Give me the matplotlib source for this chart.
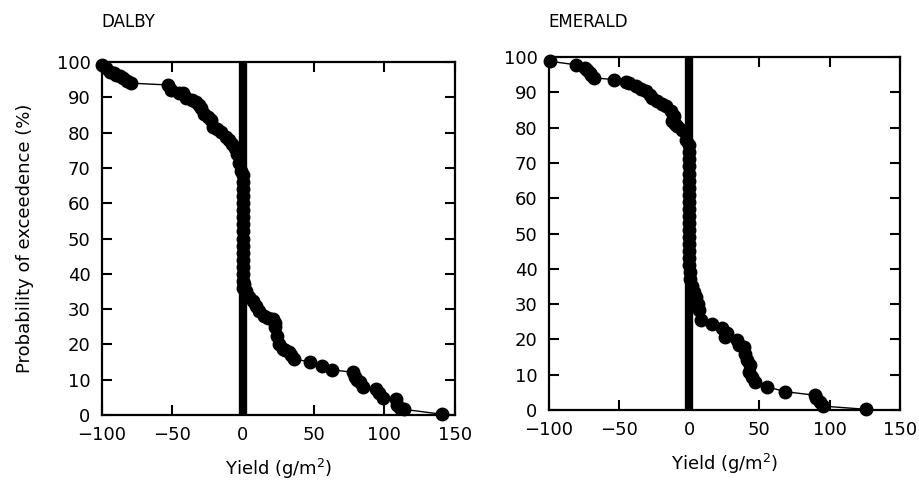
import numpy as np
import matplotlib
matplotlib.use("Agg")
import matplotlib.pyplot as plt

# Datos: rendimiento (g/m2) y probabilidad de excedencia (%)
dalby_yield = [-100, -97, -94, -91.5, -89.5, -87, -85, -82, -79,
               -53, -51, -45.5, -42.6, -40, -36, -33, -31, -29.7, -27.4, -25,
               -22.7, -21.5, -18.5, -15.7, -12.2, -10, -7.5, -5.5, -4, -2.5, -1.6,
               0, 0, 0, 0, 0, 0, 0, 0, 0, 0, 0, 0, 0, 0, 0, 0, 0,
               1, 2.3, 4.5, 7, 9, 11.6, 15, 18, 21, 22.5, 23, 24.4, 25.6, 28, 30,
               32.6, 34, 36, 47.7, 55.8, 62.8, 78, 79, 81, 82.6, 85, 94, 96, 98.8,
               108, 109, 111, 114, 141]
dalby_prob = [99.2, 98.3, 97.3, 96.8, 96.4, 95.9, 95.4, 94.7, 94,
              93.5, 92, 91.3, 91.1, 89.7, 89.2, 88.8, 87.8, 86.9, 85.4, 84.5,
              83.5, 81.6, 80.9, 80.2, 78.8, 77.8, 76.9, 75.5, 74, 71.5, 69.2,
              68, 66, 64, 62, 60, 58, 56, 54, 52, 50, 48, 46, 44, 42, 40, 38, 36,
              37, 35, 33.5, 32.2, 31, 29.4, 28, 27.5, 27.1, 26, 24.8, 22.4, 20.1, 18.7, 18.3,
              17.8, 16.9, 15.9, 15, 14, 12.8, 12.1, 10.7, 10, 9.3, 7.9, 7.5, 6.1, 4.7,
              4.4, 2.8, 2, 1.6, 0.2]

emerald_yield = [-99, -80.6, -74, -72.3, -70.5, -69.9, -67.5, -53.3, -45, -42.7, -38,
                 -34, -30.8, -28, -26.1, -22.5, -19, -16.6, -13, -10.7, -11.8, -10,
                 -8.3, -4.7, -2.4,
                 0, 0, 0, 0, 0, 0, 0, 0, 0, 0, 0, 0, 0, 0, 0, 0, 0, 0, 1, 1, 2, 2,
                 3.5, 4.7, 6, 7, 8.2, 16.5, 23.5, 27, 25.9, 34, 35.3, 38.8, 40, 41.2,
                 43.5, 42.4, 44.7, 47, 55.3, 68.2, 89.4, 90.6, 93, 95.3, 126]
emerald_prob = [98.8, 97.8, 97, 96.4, 95.5, 95, 94.1, 93.6, 93, 92.6, 91.7,
                91, 90.3, 89.3, 88.4, 87.5, 86.7, 86, 84.6, 83.2, 81.8, 81,
                80.4, 79.4, 76.6,
                75, 73, 71, 69, 67, 65, 63, 61, 59, 57, 55, 53, 51, 49, 47, 45, 43, 41, 39, 37, 35, 33.8,
                33.5, 32, 30, 28.3, 25.5, 24.5, 23.1, 21.7, 20.8, 19.8, 18.4, 17.9, 16, 14.2,
                12.7, 10.8, 9.4, 8, 6.6, 5.2, 4.2, 3.3, 2.4, 1.1, 0.2]

xticks = [-100, -50, 0, 50, 100, 150]
yticks = [0, 10, 20, 30, 40, 50, 60, 70, 80, 90, 100]

fig = plt.figure(figsize=(9.2, 4.8), dpi=100)
ax1 = fig.add_axes([0.1105, 0.1354, 0.384, 0.7354])
ax2 = fig.add_axes([0.5962, 0.1458, 0.382, 0.7354])

paneles = [(ax1, dalby_yield, dalby_prob, "DALBY"),
           (ax2, emerald_yield, emerald_prob, "EMERALD")]

for ax, x, y, nombre in paneles:
    # linea gruesa en rendimiento cero
    ax.axvline(0, color="black", linewidth=6, zorder=2)
    ax.plot(x, y, color="black", linewidth=1, marker="o", markersize=9,
            markerfacecolor="black", markeredgecolor="black", zorder=3, clip_on=False)
    ax.set_xlim(-100, 150)
    ax.set_ylim(0, 100)
    ax.set_xticks(xticks)
    ax.set_yticks(yticks)
    ax.tick_params(direction="in", length=7, width=1.5, labelsize=13,
                   top=True, right=True, pad=8)
    for s in ax.spines.values():
        s.set_linewidth(1.6)
    ax.set_xlabel("Yield (g/m$^2$)", fontsize=13, labelpad=9)
    # nombre de la estacion arriba a la izquierda
    x0 = ax.get_position().x0
    fig.text(x0, 0.955, nombre, fontsize=12, ha="left", va="center")

ax1.set_ylabel("Probability of exceedence (%)", fontsize=13, labelpad=16)

fig.savefig("out.png", dpi=100)
